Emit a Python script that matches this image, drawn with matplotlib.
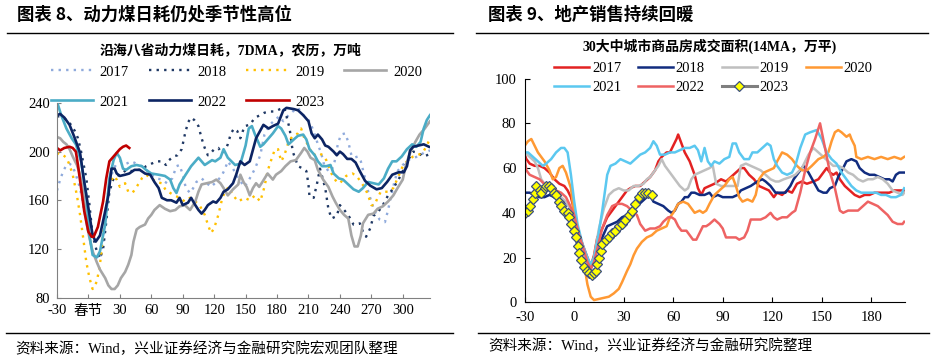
import matplotlib
matplotlib.use("Agg")
import matplotlib.pyplot as plt
from matplotlib.lines import Line2D

plt.rcParams['font.family'] = ['Liberation Serif', 'Noto Sans CJK SC']
plt.rcParams['font.size'] = 10.5
plt.rcParams['axes.unicode_minus'] = False

# ---------------- left chart: coal consumption (lunar calendar days) ----------------
c17_x = [-30, -27, -24, -21, -18, -15, -12, -8, -5, -2, 1, 4, 8, 11, 14, 17, 20, 24, 27, 31, 36, 41, 46, 51, 55,
         60, 65, 70, 75, 80, 84, 87, 90, 93, 97, 100, 103, 108, 113, 117, 122, 127, 130, 133, 138, 143, 149, 154,
         159, 164, 168, 173, 178, 182, 186, 191, 195, 200, 205, 210, 213, 216, 219, 222, 225, 229, 232, 235, 238,
         241, 245, 248, 251, 254, 257, 260, 264, 267, 270, 273, 278, 283, 286, 289, 292, 295, 300, 305, 310, 315,
         320, 326]
c17_y = [168, 177, 184, 189, 190, 188, 181, 170, 156, 142, 129, 118, 112, 112, 126, 150, 175, 186, 190, 192, 190,
         192, 190, 188, 185, 181, 178, 177, 174, 178, 188, 189, 181, 170, 166, 170, 175, 178, 174, 171, 175, 180,
         185, 192, 186, 178, 171, 178, 186, 197, 214, 222, 226, 229, 225, 230, 233, 236, 230, 226, 221, 214, 206,
         199, 189, 184, 184, 192, 206, 214, 215, 208, 197, 195, 196, 192, 178, 167, 159, 151, 144, 142, 152, 164,
         175, 184, 189, 193, 195, 196, 199, 201]

c18_x = [-30, -26, -19, -13, -10, -7, -2, 1, 4, 8, 11, 14, 17, 20, 24, 27, 31, 36, 41, 46, 51, 55, 60, 65, 70,
         74, 77, 81, 85, 89, 92, 95, 98, 101, 105, 108, 111, 114, 117, 120, 124, 127, 130, 133, 136, 139, 142, 145,
         149, 154, 159, 164, 168, 173, 178, 183, 187, 192, 195, 200, 205, 208, 210, 211, 215, 218, 221, 226, 229,
         232, 237, 240, 245, 250, 253, 256, 259, 262, 265, 269, 272, 277, 281, 286, 291, 296, 300, 305, 310, 315,
         319, 323, 326]
c18_y = [229, 229, 225, 217, 211, 200, 178, 156, 131, 118, 112, 120, 142, 167, 178, 180, 181, 185, 184, 185, 185,
         188, 190, 192, 192, 189, 193, 196, 197, 202, 214, 224, 228, 226, 221, 211, 203, 197, 199, 202, 203, 199,
         200, 206, 215, 219, 217, 211, 221, 222, 228, 230, 232, 233, 233, 235, 236, 219, 200, 188, 186, 184, 173,
         163, 162, 173, 186, 170, 153, 145, 147, 156, 151, 145, 140, 140, 141, 134, 130, 137, 147, 151, 156, 164,
         170, 177, 184, 193, 200, 199, 196, 197, 198]

c19_x = [-30, -27, -24, -21, -18, -15, -11, -8, -5, -2, 1, 4, 8, 11, 14, 17, 20, 24, 27, 30, 35, 38, 42, 46, 51,
         55, 60, 65, 70, 74, 78, 82, 87, 92, 97, 102, 106, 111, 114, 117, 120, 124, 127, 130, 134, 138, 143, 149,
         154, 159, 164, 168, 171, 174, 178, 181, 184, 187, 191, 195, 200, 203, 206, 211, 214, 219, 224, 227, 230,
         233, 237, 240, 243, 246, 249, 252, 256, 260, 264, 267, 270, 273, 276, 279, 283, 286, 291, 295, 300, 305,
         310, 314, 319, 323, 326]
c19_y = [199, 197, 197, 195, 189, 181, 164, 148, 129, 109, 96, 87, 93, 107, 131, 156, 173, 180, 177, 171, 174, 167,
         166, 171, 178, 181, 178, 175, 174, 168, 166, 164, 162, 159, 162, 159, 156, 148, 140, 133, 137, 148, 159,
         167, 171, 164, 159, 162, 160, 164, 159, 171, 184, 192, 202, 202, 192, 197, 208, 213, 215, 219, 211, 203,
         197, 199, 197, 193, 186, 180, 175, 174, 177, 180, 181, 182, 180, 175, 170, 164, 156, 156, 162, 167, 167,
         167, 170, 178, 188, 193, 196, 197, 199, 205, 211]

c20_x = [-30, -27, -24, -21, -18, -15, -11, -8, -5, -2, 1, 4, 8, 11, 16, 19, 22, 25, 28, 31, 35, 38, 41, 43, 46,
         49, 54, 57, 60, 63, 68, 73, 78, 83, 87, 92, 97, 102, 105, 108, 113, 118, 122, 126, 129, 133, 138, 143,
         145, 148, 151, 154, 157, 160, 163, 166, 171, 176, 179, 184, 188, 193, 198, 203, 206, 209, 212, 216, 219,
         224, 229, 233, 236, 240, 244, 248, 251, 254, 257, 260, 262, 267, 272, 276, 281, 286, 291, 295, 300, 303,
         307, 312, 316, 321, 326]
c20_y = [212, 211, 208, 206, 202, 196, 189, 181, 167, 142, 129, 118, 109, 103, 96, 90, 87, 87, 90, 96, 101, 107,
         115, 126, 136, 138, 140, 145, 148, 152, 156, 153, 151, 152, 155, 156, 152, 159, 167, 173, 174, 175, 177,
         174, 170, 164, 169, 173, 181, 175, 171, 164, 170, 174, 171, 175, 182, 177, 181, 184, 188, 192, 193, 199,
         203, 200, 195, 193, 185, 177, 171, 163, 158, 152, 148, 145, 131, 122, 122, 131, 141, 148, 149, 153, 155,
         159, 164, 170, 177, 189, 199, 208, 214, 219, 225]

c21_x = [-30, -26, -21, -16, -12, -7, -2, 1, 4, 8, 11, 16, 20, 24, 27, 30, 33, 36, 41, 46, 51, 55, 60, 67, 73,
         78, 81, 84, 87, 92, 98, 105, 111, 118, 121, 126, 129, 133, 140, 145, 150, 153, 156, 159, 164, 167, 172,
         176, 181, 184, 188, 191, 196, 200, 205, 208, 211, 216, 219, 223, 227, 231, 234, 239, 243, 248, 253, 258,
         262, 267, 272, 277, 282, 286, 290, 294, 299, 304, 309, 313, 317, 320, 323, 326]
c21_y = [241, 230, 219, 211, 206, 192, 164, 131, 115, 113, 118, 140, 178, 193, 199, 195, 186, 185, 188, 189, 188,
         185, 182, 181, 180, 177, 170, 166, 173, 180, 188, 195, 189, 193, 192, 195, 202, 195, 189, 190, 205, 219,
         221, 214, 204, 206, 211, 215, 221, 219, 213, 206, 210, 213, 214, 210, 202, 197, 192, 188, 188, 189, 182,
         178, 177, 173, 169, 167, 170, 175, 174, 173, 178, 186, 192, 192, 196, 202, 206, 204, 208, 219, 226, 230]

c22_x = [-30, -27, -23, -18, -13, -8, -4, 1, 4, 7, 11, 16, 19, 22, 25, 27, 30, 35, 39, 44, 49, 54, 59, 63, 67,
         70, 75, 79, 84, 87, 90, 95, 98, 102, 105, 108, 111, 114, 119, 122, 126, 129, 133, 138, 141, 145, 149, 154,
         160, 167, 172, 176, 181, 186, 189, 196, 200, 205, 210, 213, 216, 219, 223, 226, 229, 234, 237, 240, 243,
         247, 251, 255, 259, 264, 269, 275, 280, 285, 290, 296, 301, 304, 307, 310, 315, 320, 325]
c22_y = [230, 231, 228, 222, 211, 199, 175, 148, 131, 126, 131, 151, 164, 186, 186, 182, 180, 181, 182, 185, 185,
         182, 181, 175, 170, 162, 160, 160, 158, 162, 156, 158, 162, 156, 152, 149, 152, 156, 159, 158, 162, 167,
         169, 174, 181, 192, 189, 192, 211, 222, 219, 221, 223, 234, 236, 235, 234, 230, 225, 215, 211, 214, 210,
         205, 204, 200, 197, 200, 198, 194, 194, 191, 184, 176, 172, 169, 170, 175, 181, 183, 183, 188, 201, 204,
         205, 206, 204]

c23_x = [-30, -27, -23, -18, -15, -12, -10, -7, -4, 0, 3, 5, 9, 14, 17, 20, 24, 27, 30, 33, 36, 39]
c23_y = [203, 201, 203, 204, 203, 200, 189, 170, 151, 134, 130, 130, 138, 159, 178, 192, 196, 199, 202, 204, 205, 203]

coal_ticks = [-30, 0, 30, 60, 90, 120, 150, 180, 210, 240, 270, 300]
coal_ticklabels = ['-30', '春节', '30', '60', '90', '120', '150', '180', '210', '240', '270', '300']

# ---------------- right chart: property sales, 30 cities ----------------
s17_x = [-30, -29, -27, -24, -21, -18, -15, -12, -9, -6, -4, -2, 0, 2, 5, 8, 10, 12, 14, 17, 20, 23, 26, 29, 32,
         34, 37, 40, 43, 46, 49, 51, 53, 56, 58, 60, 62, 63, 65, 67, 70, 73, 75, 77, 79, 82, 85, 89, 92, 95, 98,
         101, 103, 106, 109, 112, 115, 118, 121, 123, 126, 129, 132, 135, 138, 141, 145, 148, 151, 153, 155, 157,
         159, 161, 164, 167, 170, 173, 176, 179, 182, 185, 188, 191, 194, 197, 200]
s17_y = [66, 64, 62, 61, 61, 60, 58, 55, 53, 52, 50, 47, 41, 33, 26, 20, 16, 21, 29, 33, 38, 41, 44, 47, 50, 51,
         52, 52, 54, 56, 59, 63, 65, 67, 67, 70, 73, 75, 71, 67, 63, 57, 51, 48, 51, 52, 53, 55, 54, 56, 58, 60,
         60, 57, 55, 52, 51, 50, 47, 49, 48, 50, 49, 53, 54, 53, 54, 55, 58, 60, 58, 57, 58, 55, 52, 50, 48, 47,
         48, 48, 49, 49, 49, 49, 50, 50, 50]

s18_x = [-30, -27, -24, -21, -18, -15, -12, -9, -6, -3, -1, 2, 5, 8, 10, 12, 14, 17, 20, 23, 26, 29, 32, 35, 38,
         41, 44, 46, 48, 51, 54, 57, 59, 61, 63, 65, 67, 69, 71, 73, 76, 79, 82, 84, 87, 90, 93, 96, 99, 101, 104,
         107, 111, 114, 116, 119, 122, 125, 128, 131, 133, 136, 139, 142, 145, 148, 151, 153, 155, 158, 160, 163,
         165, 168, 171, 173, 176, 179, 182, 185, 188, 191, 193, 195, 197, 200]
s18_y = [49, 49, 48, 47, 47, 48, 47, 47, 45, 43, 39, 32, 24, 18, 15, 18, 24, 29, 34, 35, 36, 38, 39, 41, 43, 45,
         47, 48, 45, 44, 43, 41, 40, 41, 44, 45, 47, 47, 49, 49, 48, 48, 49, 47, 48, 47, 47, 47, 48, 50, 51, 52,
         54, 55, 54, 52, 49, 49, 49, 52, 55, 58, 61, 58, 54, 50, 49, 49, 51, 52, 56, 60, 63, 64, 63, 60, 58, 57,
         57, 56, 55, 55, 54, 57, 58, 58]

s19_x = [-30, -27, -24, -22, -20, -17, -14, -11, -8, -5, -2, 1, 4, 7, 10, 12, 15, 18, 21, 24, 27, 30, 33, 36, 39,
         42, 44, 46, 48, 51, 53, 55, 58, 61, 64, 67, 69, 71, 73, 76, 79, 82, 84, 86, 89, 93, 97, 99, 101, 104, 107,
         110, 113, 116, 119, 122, 124, 127, 131, 134, 138, 142, 145, 148, 151, 154, 157, 160, 163, 166, 169, 172,
         175, 178, 181, 184, 187, 190, 193, 196, 199, 200]
s19_y = [67, 65, 63, 60, 55, 52, 50, 49, 47, 45, 41, 35, 27, 20, 15, 20, 33, 42, 48, 50, 51, 50, 50, 52, 52, 53,
         55, 56, 58, 61, 64, 61, 58, 55, 52, 50, 51, 55, 57, 58, 59, 60, 61, 53, 52, 52, 52, 52, 61, 62, 61, 60,
         59, 57, 55, 54, 54, 55, 56, 57, 60, 66, 69, 67, 65, 63, 61, 61, 60, 58, 57, 55, 54, 55, 55, 56, 55, 53,
         50, 49, 48, 49]

s20_x = [-30, -28, -26, -24, -22, -20, -18, -15, -13, -11, -9, -7, -5, -2, 0, 3, 6, 8, 10, 12, 15, 18, 21, 24, 27,
         29, 32, 34, 36, 38, 41, 44, 47, 50, 53, 56, 58, 60, 63, 66, 69, 71, 73, 76, 78, 80, 82, 85, 88, 91, 94,
         96, 98, 100, 102, 105, 108, 110, 112, 115, 118, 121, 123, 126, 129, 132, 135, 138, 141, 144, 148, 151,
         154, 156, 158, 160, 162, 165, 167, 168, 170, 171, 174, 178, 182, 186, 190, 194, 198, 200]
s20_y = [70, 72, 73, 70, 67, 65, 63, 59, 55, 56, 60, 61, 58, 51, 39, 27, 17, 8, 2.5, 1, 1.5, 2, 2.5, 4, 6, 9, 14,
         17, 21, 24, 27, 29, 30, 32, 33, 34, 38, 40, 44, 45, 44, 42, 40, 41, 40, 41, 44, 48, 50, 52, 55, 56, 52,
         47, 45, 46, 45, 48, 55, 58, 59, 60, 63, 67, 66, 64, 61, 59, 59, 61, 64, 65, 67, 72, 76, 77, 76, 74, 75,
         73, 70, 65, 64, 65, 64, 65, 64, 65, 64, 65]

s21_x = [-30, -28, -25, -22, -19, -17, -14, -11, -8, -6, -4, -2, 0, 2, 5, 8, 10, 12, 14, 17, 20, 22, 25, 28, 31,
         34, 37, 40, 43, 46, 48, 50, 52, 55, 58, 61, 64, 67, 70, 73, 75, 77, 79, 81, 83, 85, 88, 91, 94, 96, 98,
         100, 103, 106, 108, 111, 114, 117, 119, 121, 123, 126, 129, 132, 134, 137, 140, 143, 147, 150, 153, 156,
         159, 162, 165, 168, 171, 174, 177, 180, 183, 186, 189, 192, 195, 198, 200]
s21_y = [67, 67, 65, 63, 61, 62, 64, 67, 69, 69, 67, 57, 45, 35, 26, 20, 17, 20, 27, 41, 57, 61, 62, 64, 63, 62,
         64, 66, 67, 69, 72, 70, 66, 66, 67, 67, 68, 69, 69, 70, 68, 63, 69, 63, 61, 63, 62, 64, 65, 71, 71, 67,
         64, 64, 67, 67, 69, 71, 70, 64, 61, 58, 57, 58, 61, 69, 75, 76, 77, 73, 67, 64, 62, 58, 55, 52, 50, 49,
         49, 49, 49, 48, 48, 47, 47, 48, 51]

s22_x = [-30, -29, -27, -24, -21, -17, -14, -11, -8, -5, -3, 0, 3, 6, 8, 10, 12, 14, 17, 20, 23, 26, 29, 32, 35,
         38, 40, 43, 46, 49, 52, 54, 57, 59, 61, 63, 65, 68, 70, 72, 74, 76, 78, 80, 82, 85, 88, 90, 92, 95, 98,
         100, 103, 105, 107, 110, 113, 116, 119, 121, 123, 126, 129, 132, 134, 137, 140, 143, 146, 149, 152, 155,
         158, 161, 163, 166, 169, 172, 175, 178, 181, 184, 187, 190, 193, 196, 199, 200]
s22_y = [64, 59, 57, 56, 55, 52, 51, 50, 49, 47, 44, 39, 30, 23, 18, 15, 18, 24, 33, 39, 43, 44, 44, 43, 41, 39,
         35, 32, 33, 33, 34, 36, 38, 38, 37, 34, 32, 32, 30, 28, 28, 31, 34, 34, 35, 37, 35, 33, 29, 29, 29, 28,
         29, 32, 37, 37, 37, 38, 40, 38, 37, 38, 38, 40, 41, 49, 59, 67, 73, 80, 69, 58, 51, 41, 40, 41, 41, 41,
         43, 45, 44, 43, 41, 39, 36, 35, 35, 36]

s23_x = [-30, -28, -27, -25, -24, -23, -21, -20, -18, -17, -15, -14, -12, -11, -9, -8, -6, -4, -3, -2, 0, 1, 2,
         3, 4, 6, 8, 9, 11, 12, 13, 14, 15, 16, 17, 19, 21, 23, 25, 27, 29, 31, 33, 35, 37, 39, 41, 43, 45, 47]
s23_y = [40, 41, 43, 46, 49, 52, 50, 49, 51, 52, 52, 51, 49, 48, 45, 43, 41, 40, 38, 35, 32, 29, 25, 22, 19, 16,
         14, 13, 12, 13, 14, 17, 20, 23, 26, 28, 29, 31, 32, 34, 35, 37, 39, 41, 44, 47, 49, 49, 49, 48]

sales_ticks = [-30, 0, 30, 60, 90, 120, 150, 180]

fig = plt.figure(figsize=(9.36, 3.63), dpi=100)

# ---------------- left ----------------
ax1 = fig.add_axes([0.0609, 0.1804, 0.3985, 0.5359])
dot = (0, (1, 2.2))
ax1.plot(c17_x, c17_y, color='#8FAADC', lw=1.7, linestyle=dot, label='2017')
ax1.plot(c18_x, c18_y, color='#1F3864', lw=1.7, linestyle=dot, label='2018')
ax1.plot(c19_x, c19_y, color='#FFC000', lw=1.7, linestyle=dot, label='2019')
ax1.plot(c20_x, c20_y, color='#A6A6A6', lw=1.9, label='2020')
ax1.plot(c21_x, c21_y, color='#4BACC6', lw=1.9, label='2021')
ax1.plot(c22_x, c22_y, color='#0C2463', lw=1.9, label='2022')
ax1.plot(c23_x, c23_y, color='#C00000', lw=1.9, label='2023')
ax1.set_xlim(-30, 326)
ax1.set_ylim(80, 240)
ax1.set_yticks([80, 120, 160, 200, 240])
ax1.set_xticks(coal_ticks)
ax1.set_xticklabels(coal_ticklabels)
for s in ['top', 'right']:
    ax1.spines[s].set_visible(False)
for s in ['left', 'bottom']:
    ax1.spines[s].set_color('#808080')
ax1.tick_params(direction='in', length=3, color='#808080', labelsize=10.5, pad=5)

h, l = ax1.get_legend_handles_labels()
order = [0, 4, 1, 5, 2, 6, 3]
fig.legend([h[i] for i in order], [l[i] for i in order], ncol=4, frameon=False,
           loc='upper left', bbox_to_anchor=(0.0545, 0.82), borderpad=0, borderaxespad=0,
           handlelength=2.9, handletextpad=0.45, columnspacing=1.35, labelspacing=1.15, fontsize=10.5)

# ---------------- right ----------------
ax2 = fig.add_axes([0.5606, 0.1672, 0.4063, 0.6163])
ax2.plot(s17_x, s17_y, color='#E32222', lw=1.8, label='2017')
ax2.plot(s18_x, s18_y, color='#112C7F', lw=1.8, label='2018')
ax2.plot(s19_x, s19_y, color='#BFBFBF', lw=1.8, label='2019')
ax2.plot(s20_x, s20_y, color='#FF9933', lw=1.8, label='2020')
ax2.plot(s21_x, s21_y, color='#5BC8F0', lw=1.8, label='2021')
ax2.plot(s22_x, s22_y, color='#EE6363', lw=1.8, label='2022')
ax2.plot(s23_x, s23_y, color='#7F7F7F', lw=2.2, marker='D', markersize=5,
         markerfacecolor='#FFFF00', markeredgecolor='#3B4F7D', markeredgewidth=0.9, label='2023')
ax2.set_xlim(-30, 200.5)
ax2.set_ylim(0, 100)
ax2.set_yticks([0, 20, 40, 60, 80, 100])
ax2.set_xticks(sales_ticks)
for s in ['top', 'right']:
    ax2.spines[s].set_visible(False)
ax2.tick_params(direction='in', length=3.5, labelsize=10.5, pad=6)

h, l = ax2.get_legend_handles_labels()
fig.legend([h[i] for i in order], [l[i] for i in order], ncol=4, frameon=False,
           loc='upper left', bbox_to_anchor=(0.5919, 0.829), borderpad=0, borderaxespad=0,
           handlelength=2.4, handletextpad=0.2, columnspacing=1.15, labelspacing=0.4, fontsize=10.5)

# ---------------- headings, rules and sources ----------------
fig.text(0.018, 0.960, '图表 8、动力煤日耗仍处季节性高位', fontsize=12.5, fontweight='bold',
         family=['Noto Sans CJK SC'], va='center', ha='left')
fig.text(0.5214, 0.960, '图表 9、地产销售持续回暖', fontsize=12.5, fontweight='bold',
         family=['Noto Sans CJK SC'], va='center', ha='left')
fig.text(0.2463, 0.862, '沿海八省动力煤日耗，7DMA，农历，万吨', fontsize=10, fontweight='bold',
         va='center', ha='center')
fig.text(0.758, 0.871, '30大中城市商品房成交面积(14MA，万平)', fontsize=10, fontweight='bold',
         va='center', ha='center')
fig.add_artist(Line2D([0.0075, 0.484], [0.9083, 0.9083], color='black', lw=1))
fig.add_artist(Line2D([0.5085, 0.9915], [0.9083, 0.9083], color='black', lw=1))
fig.add_artist(Line2D([0.0064, 0.484], [0.0818, 0.0818], color='black', lw=1))
fig.add_artist(Line2D([0.5107, 0.9925], [0.0818, 0.0818], color='black', lw=1))
fig.text(0.016, 0.038, '资料来源：Wind，兴业证券经济与金融研究院宏观团队整理', fontsize=10.5,
         va='center', ha='left')
fig.text(0.5214, 0.047, '资料来源：Wind，兴业证券经济与金融研究院整理', fontsize=10.5,
         va='center', ha='left')

fig.savefig('out.png', dpi=100)
